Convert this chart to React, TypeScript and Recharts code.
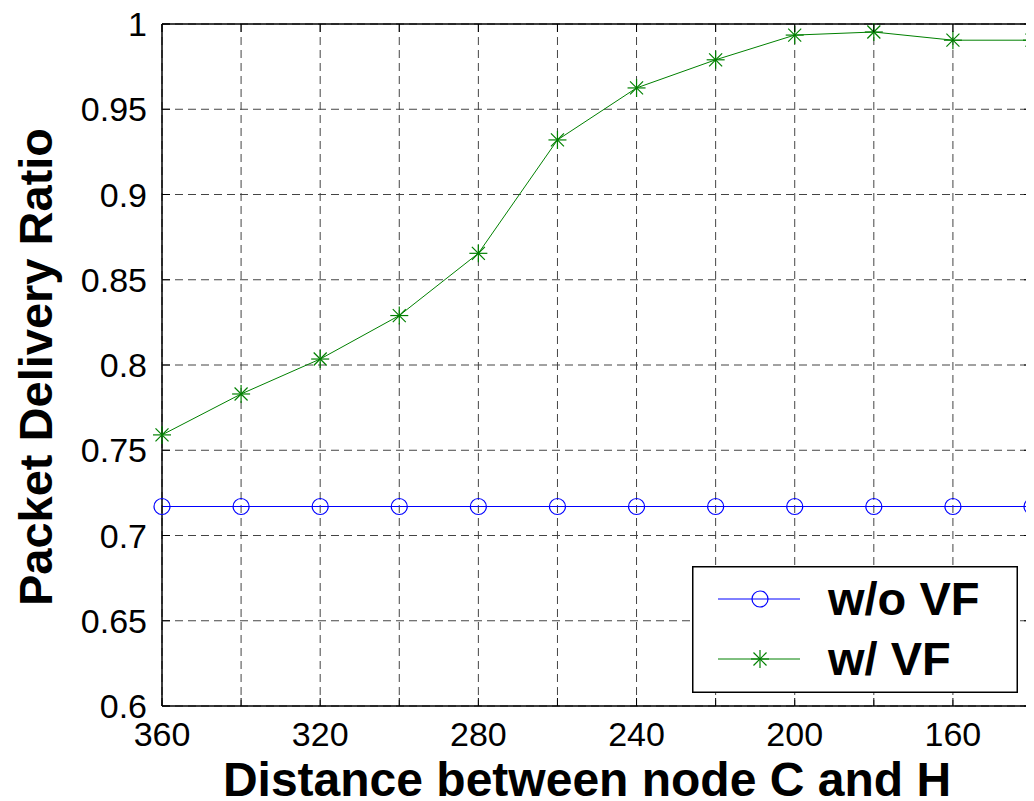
import React from 'react';
import { LineChart, Line, XAxis, YAxis, CartesianGrid, ReferenceLine, Legend } from 'recharts';

const distances = [360, 340, 320, 300, 280, 260, 240, 220, 200, 180, 160, 140];
const withoutVF = [0.717, 0.717, 0.717, 0.717, 0.717, 0.717, 0.717, 0.717, 0.717, 0.717, 0.717, 0.717];
const withVF = [0.759, 0.783, 0.8035, 0.829, 0.8655, 0.932, 0.9625, 0.979, 0.9935, 0.9953, 0.9905, 0.9905];
const xTicks = [360, 340, 320, 300, 280, 260, 240, 220, 200, 180, 160, 140];
const xTickLabels = ['360', '', '320', '', '280', '', '240', '', '200', '', '160', ''];
const yTicks = [0.6, 0.65, 0.7, 0.75, 0.8, 0.85, 0.9, 0.95, 1];
const yTickLabels = ['0.6', '0.65', '0.7', '0.75', '0.8', '0.85', '0.9', '0.95', '1'];
const seriesNames = ['w/o VF', 'w/ VF'];

const chartData = distances.map((d, i) => ({ d, wo: withoutVF[i], w: withVF[i] }));

const FONT = '"Liberation Sans", Arial, Helvetica, sans-serif';
const PLOT_W = 870;
const PLOT_H = 682;
const BLUE = '#0000ff';
const GREEN = '#008000';

const XTick = (props: any) => {
  const { x, y, payload } = props;
  const idx = xTicks.indexOf(payload.value);
  const label = idx >= 0 ? xTickLabels[idx] : '';
  const axisY = y - 16;
  return (
    <g>
      <line x1={x} x2={x} y1={axisY} y2={axisY - 8} stroke="#000" strokeWidth={1} />
      <line x1={x} x2={x} y1={axisY - PLOT_H} y2={axisY - PLOT_H + 8} stroke="#000" strokeWidth={1} />
      <text x={x} y={y} dy="0.71em" textAnchor="middle" fontFamily={FONT} fontSize={34} fill="#000">
        {label}
      </text>
    </g>
  );
};

const YTick = (props: any) => {
  const { x, y, payload } = props;
  const idx = yTicks.findIndex((v) => Math.abs(v - payload.value) < 1e-9);
  const label = idx >= 0 ? yTickLabels[idx] : '';
  const axisX = x + 15;
  return (
    <g>
      <line x1={axisX} x2={axisX + 8} y1={y} y2={y} stroke="#000" strokeWidth={1} />
      <line x1={axisX + PLOT_W} x2={axisX + PLOT_W - 8} y1={y} y2={y} stroke="#000" strokeWidth={1} />
      <text x={x} y={y} dy={12} textAnchor="end" fontFamily={FONT} fontSize={34} fill="#000">
        {label}
      </text>
    </g>
  );
};

const CircleDot = (props: any) => {
  const { cx, cy } = props;
  if (cx == null || cy == null) return null;
  return <circle cx={cx} cy={cy} r={8} fill="none" stroke={BLUE} strokeWidth={1.2} />;
};

const StarDot = (props: any) => {
  const { cx, cy } = props;
  if (cx == null || cy == null) return null;
  const s = 9;
  const d = 6.5;
  return (
    <g stroke={GREEN} strokeWidth={1.2}>
      <line x1={cx - s} x2={cx + s} y1={cy} y2={cy} />
      <line x1={cx} x2={cx} y1={cy - s} y2={cy + s} />
      <line x1={cx - d} x2={cx + d} y1={cy - d} y2={cy + d} />
      <line x1={cx - d} x2={cx + d} y1={cy + d} y2={cy - d} />
    </g>
  );
};

const XLabel = (props: any) => {
  const vb = props.viewBox || { x: 154, y: 698, width: 870, height: 95 };
  return (
    <text x={vb.x + vb.width / 2 - 10} y={vb.y + 90} textAnchor="middle" fontFamily={FONT} fontWeight="bold" fontSize={48} fill="#000">
      Distance between node C and H
    </text>
  );
};

const YLabel = (props: any) => {
  const vb = props.viewBox || { x: 0, y: 16, width: 154, height: 682 };
  const cx = vb.x + 44;
  const cy = vb.y + vb.height / 2 + 2;
  return (
    <text x={cx} y={cy} transform={`rotate(-90 ${cx} ${cy})`} textAnchor="middle" fontFamily={FONT} fontWeight="bold" fontSize={47} fill="#000">
      Packet Delivery Ratio
    </text>
  );
};

const renderLegend = () => {
  const rows = [
    { name: seriesNames[0], color: BLUE, kind: 'circle', y: 33 },
    { name: seriesNames[1], color: GREEN, kind: 'star', y: 93 },
  ];
  return (
    <svg width={326} height={127} style={{ display: 'block' }}>
      <rect x={0.75} y={0.75} width={324.5} height={125.5} fill="#fff" stroke="#000" strokeWidth={1.5} />
      {rows.map((r) => (
        <g key={r.name}>
          <line x1={26} x2={108} y1={r.y} y2={r.y} stroke={r.color} strokeWidth={1} />
          {r.kind === 'circle' ? <CircleDot cx={68} cy={r.y} /> : <StarDot cx={68} cy={r.y} />}
          <text x={136} y={r.y + 16} fontFamily={FONT} fontWeight="bold" fontSize={47} fill="#000">
            {r.name}
          </text>
        </g>
      ))}
    </svg>
  );
};

export default function App() {
  return (
    <div style={{ width: 1026, height: 793, background: '#fff' }}>
      <LineChart width={1026} height={793} data={chartData} margin={{ top: 16, right: 2, left: 0, bottom: 0 }}>
        <CartesianGrid stroke="#444" strokeDasharray="8 5" strokeWidth={1} />
        <XAxis
          dataKey="d"
          type="number"
          domain={[140, 360]}
          reversed
          ticks={xTicks}
          interval={0}
          height={95}
          tickSize={0}
          tickMargin={16}
          tickLine={false}
          axisLine={{ stroke: '#000', strokeWidth: 1.5 }}
          tick={<XTick />}
          label={<XLabel />}
        />
        <YAxis
          type="number"
          domain={[0.6, 1]}
          ticks={yTicks}
          interval={0}
          width={154}
          tickSize={0}
          tickMargin={15}
          tickLine={false}
          axisLine={{ stroke: '#000', strokeWidth: 1.5 }}
          tick={<YTick />}
          label={<YLabel />}
        />
        <ReferenceLine y={1} stroke="#000" strokeWidth={1.5} />
        <ReferenceLine x={140} stroke="#000" strokeWidth={1.5} />
        <Line
          type="linear"
          dataKey="wo"
          name={seriesNames[0]}
          stroke={BLUE}
          strokeWidth={1}
          dot={<CircleDot />}
          activeDot={false}
          isAnimationActive={false}
        />
        <Line
          type="linear"
          dataKey="w"
          name={seriesNames[1]}
          stroke={GREEN}
          strokeWidth={1}
          dot={<StarDot />}
          activeDot={false}
          isAnimationActive={false}
        />
        <Legend
          layout="horizontal"
          verticalAlign="middle"
          align="center"
          content={renderLegend}
          wrapperStyle={{ position: 'absolute', left: 684, top: 558, width: 326, height: 127 }}
        />
      </LineChart>
    </div>
  );
}
